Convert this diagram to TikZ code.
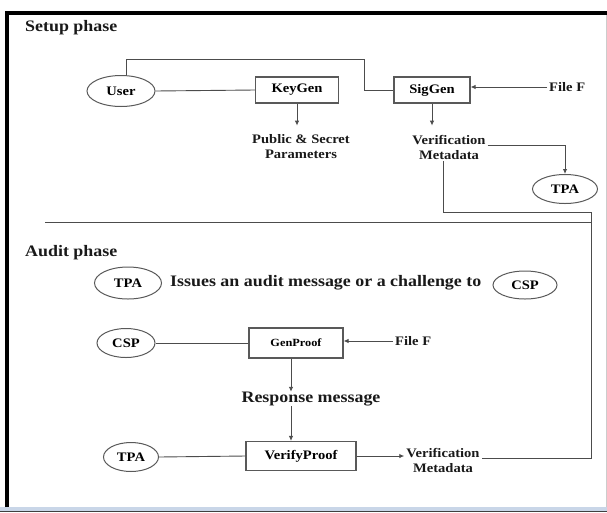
\documentclass[tikz,border=0pt]{standalone}
\usepackage{fontspec}
\setmainfont{Liberation Serif}
\newfontfamily\diagfont[FakeStretch=1.12]{Liberation Serif}
\usepackage{tikz}
\usetikzlibrary{arrows.meta, shapes.geometric}

\definecolor{barblue}{HTML}{C9D6E8}

\begin{document}
\begin{tikzpicture}[x=1pt, y=-1pt,
		line/.style={draw=black!70, line width=0.9pt},
		arr/.style={line, arrows={-Latex[length=5pt, width=4.5pt]}},
		box/.style={draw=black!65, line width=1.2pt, inner sep=0pt, font=\diagfont\bfseries\fontsize{13}{15}\selectfont},
		ell/.style={ellipse, draw=black!65, line width=1pt, inner sep=0pt, font=\diagfont\bfseries\fontsize{13}{15}\selectfont},
		txt/.style={inner sep=2pt, text=black!90, font=\diagfont\bfseries\fontsize{13}{15}\selectfont},
		txtbig/.style={inner sep=0pt, text=black!90, font=\diagfont\bfseries\fontsize{16}{18}\selectfont}]
		\useasboundingbox (0,0) rectangle (607,512);
		% frame of the screenshot
		\fill[barblue] (0,507) rectangle (607,512);
		\draw[black!75, line width=1pt] (0,511.5) -- (607,511.5);
		\draw[black!20, line width=1pt] (606,13) -- (606,507);
		\draw[line width=4pt] (7,507) -- (7,13) -- (607,13);

		% setup phase
		\node[txtbig, anchor=west] (setup) at (25,28) {Setup phase};
		\node[ell, minimum width=68, minimum height=31] (user) at (121,91) {User};
		\node[box, minimum width=83, minimum height=26] (keygen) at (297,90) {KeyGen};
		\node[box, minimum width=76, minimum height=26] (siggen) at (432,90) {SigGen};
		\node[txt, anchor=west] (fileA) at (547,87) {File F};
		\node[txt, align=center] (params) at (301,147) {Public \& Secret\\Parameters};
		\node[txt, align=center] (vmA) at (449,147) {Verification\\Metadata};
		\node[ell, minimum width=65, minimum height=29] (tpaA) at (565,189) {TPA};
		\coordinate (bend) at (364,59);
		\coordinate (cornerA) at (591,212);
		\coordinate (sepL) at (45,222);

		\draw[line] (user.east) -- (keygen.west);
		\draw[line] ([xshift=5]user.north) |- (bend) |- (siggen.west);
		\draw[arr] (keygen.south) -- ++(0,22);
		\draw[arr] (siggen.south) -- ++(0,22);
		\draw[arr] (fileA.west) -- (fileA.west -| siggen.east);
		\draw[arr] ([yshift=2]vmA.east) -| (tpaA.north);
		\draw[line] ([xshift=-6]vmA.south) |- (cornerA);
		\draw[line] (sepL) -- (sepL -| cornerA);

		% audit phase
		\node[txtbig, anchor=west] (audit) at (25,253) {Audit phase};
		\node[ell, minimum width=67, minimum height=32] (tpaB) at (128,283) {TPA};
		\node[txtbig, anchor=west] (issue) at (170,283) {Issues an audit message or a challenge to};
		\node[ell, minimum width=64, minimum height=28] (cspA) at (525,285) {CSP};
		\node[ell, minimum width=58, minimum height=29] (cspB) at (126,343) {CSP};
		\node[box, minimum width=94, minimum height=30, font=\diagfont\bfseries\fontsize{11}{13}\selectfont] (genproof) at (296,343) {GenProof};
		\node[txt, anchor=west] (fileB) at (393,341) {File F};
		\node[txtbig] (resp) at (311,399) {Response message};
		\node[box, minimum width=110, minimum height=29] (verify) at (301,456) {VerifyProof};
		\node[ell, minimum width=55, minimum height=29] (tpaC) at (131,457) {TPA};
		\node[txt, align=center] (vmB) at (443,460) {Verification\\Metadata};

		\draw[line] (cspB.east) -- (genproof.west);
		\draw[arr] (fileB.west) -- (fileB.west -| genproof.east);
		\draw[arr] ([xshift=-5]genproof.south) -- ([xshift=-5]genproof.south |- resp.north);
		\draw[arr] ([xshift=-5]genproof.south |- resp.south) -- ([xshift=-5]genproof.south |- verify.north);
		\draw[line] (tpaC.east) -- (verify.west);
		\draw[arr] (verify.east) -- (verify.east -| vmB.west);
		\draw[line] (cornerA) |- ([yshift=2]vmB.east);
	\end{tikzpicture}
\end{document}
